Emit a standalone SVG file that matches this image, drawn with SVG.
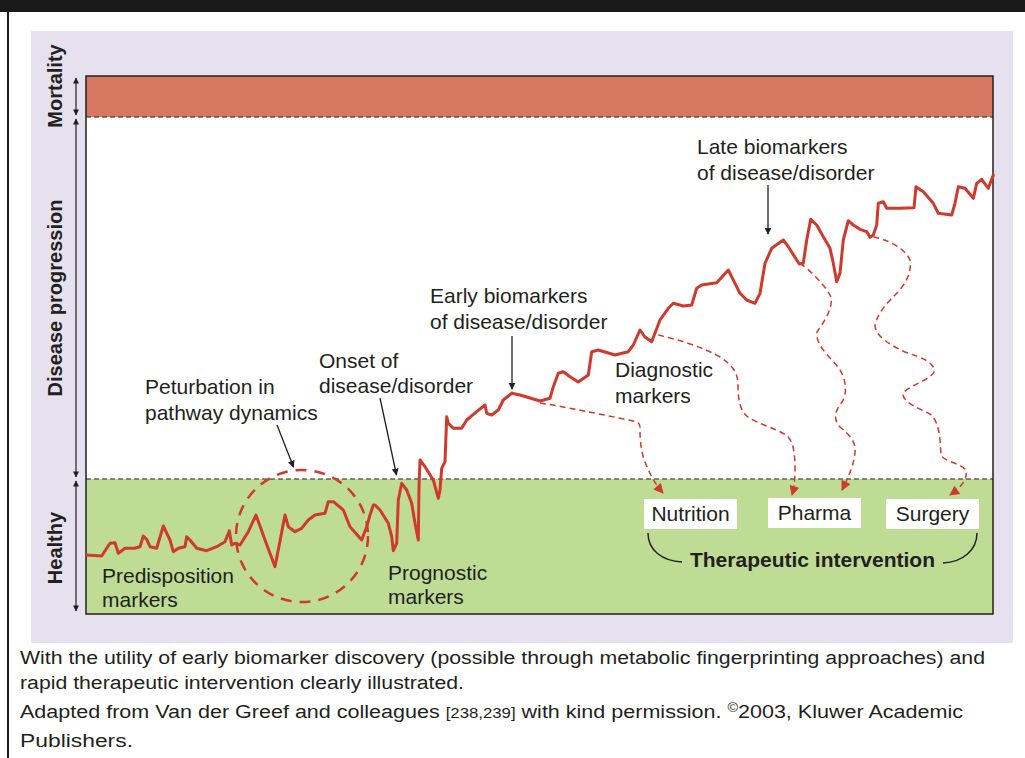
<svg xmlns="http://www.w3.org/2000/svg" width="1025" height="758" viewBox="0 0 1025 758">
<defs>
<style>
.lbl{font-family:"Liberation Sans",Arial,sans-serif;font-size:21px;fill:#231f20}
.ax{font-family:"Liberation Sans",Arial,sans-serif;font-size:20px;font-weight:bold;fill:#231f20}
.cap{font-family:"Liberation Sans",Arial,sans-serif;font-size:18px;fill:#231f20}
.box{fill:#ffffff}
.ann{stroke:#231f20;stroke-width:1.3;fill:none}
.axl{stroke:#231f20;stroke-width:1.2;fill:none}
.rd{stroke:#d0392b;stroke-width:1.5;fill:none;stroke-dasharray:6,4}
.curve{stroke:#d0392b;stroke-width:3;fill:none;stroke-linejoin:round;stroke-linecap:round}
</style>
<marker id="ah" viewBox="0 0 10 10" refX="9" refY="5" markerWidth="7" markerHeight="9" markerUnits="userSpaceOnUse" orient="auto"><path d="M0,0 L10,5 L0,10 z" fill="#231f20"/></marker>
<marker id="ahs" viewBox="0 0 10 10" refX="9" refY="5" markerWidth="7" markerHeight="6" markerUnits="userSpaceOnUse" orient="auto-start-reverse"><path d="M0,0 L10,5 L0,10 z" fill="#231f20"/></marker>
<marker id="ar" viewBox="0 0 10 10" refX="9" refY="5" markerWidth="11" markerHeight="10" markerUnits="userSpaceOnUse" orient="auto"><path d="M0,0 L10,5 L0,10 z" fill="#d0392b"/></marker>
</defs>
<rect x="0" y="0" width="1025" height="758" fill="#ffffff"/>
<rect x="0" y="0" width="1025" height="12" fill="#1a1a1a"/>
<rect x="7" y="12" width="2" height="746" fill="#1a1a1a"/>
<rect x="31" y="31" width="982" height="612" fill="#e6e1ef"/>

<g id="plot">
<rect x="86" y="117" width="907" height="362" fill="#ffffff"/>
<rect x="86" y="76" width="907" height="41" fill="#d77862"/>
<rect x="86" y="479" width="907" height="135" fill="#bfdc95"/>
<rect x="86" y="76" width="907" height="538" fill="none" stroke="#231f20" stroke-width="1.5"/>
<line x1="86" y1="117" x2="993" y2="117" stroke="#231f20" stroke-width="1.2" stroke-dasharray="5,3"/>
<line x1="86" y1="479" x2="993" y2="479" stroke="#231f20" stroke-width="1.2" stroke-dasharray="5,3"/>
</g>

<g id="axis">
<line class="axl" x1="76" y1="78" x2="76" y2="115" marker-start="url(#ahs)" marker-end="url(#ahs)"/>
<line class="axl" x1="76" y1="119" x2="76" y2="477" marker-start="url(#ahs)" marker-end="url(#ahs)"/>
<line class="axl" x1="76" y1="481" x2="76" y2="611" marker-start="url(#ahs)" marker-end="url(#ahs)"/>
<text class="ax" transform="translate(62,86) rotate(-90)" text-anchor="middle">Mortality</text>
<text class="ax" transform="translate(62,298) rotate(-90)" text-anchor="middle">Disease progression</text>
<text class="ax" transform="translate(62,548) rotate(-90)" text-anchor="middle">Healthy</text>
</g>

<g id="curve">
<polyline class="curve" points="86.7,555 101.7,556 110,543.3 115,542.7 118.3,553.3 125,548.3 135,548.3 140,546.7 143.3,536 146.7,539.3 150,546.7 156.7,548.3 163.3,526 170,540 173.3,551.7 178.3,548.3 185,546.7 186.7,536.7 190,540 196.7,548.3 206.7,550.7 216.7,546.7 225,541.7 229.3,530.7 231.7,545 235,543.3 240,545 248.3,531.7 256,515 265,540 275,566.7 285,515 288.3,526.7 295,531.7 301.7,528.3 308.3,520 315,515 325,513.3 328.3,501.7 333.3,501.7 343.3,510 350,526.7 361.7,540 366.7,526.7 370,515 373.3,505 375,505 380,510 388.3,523.3 391.7,536.7 393.3,550.7 396.7,543.3 398.3,500 401.7,483.3 406.7,490 411.7,503.3 415,523.3 418.3,540 419,486.7 420,460 425,466.7 433.3,480 438.3,498.3 440,490 441.7,468.3 445,461.7 446.7,416.7 448.3,423.3 453.3,428.3 461.7,428.3 466.7,420 476.7,411.7 485,405 486.7,413.3 491.7,415 498.3,410 503.3,400 511.7,393.3 520,395 540,401 550,398.3 553.3,386.7 558.3,373.3 563.3,371.7 570,376.7 578.3,382 588.3,375 591.7,351.7 598.3,350 615,355 628.3,351.7 633.3,345 640,330 645,337 651.7,341.7 660,320 668.3,308.3 673.3,303.3 683.3,306 691.7,305 696.7,288.3 701.7,285 716.7,282.7 728.3,270 735,283.3 740,293.3 746.7,300 755,303.3 760,293.3 765,263.3 771.7,248.3 783.3,240 788.3,246.7 796.7,260 799.3,264 803.3,263.3 806.7,240 810.7,219.3 816.7,225 823.3,236.7 830,248.3 833.3,263.3 836.7,281.7 840,273.3 843.3,240 848.3,220.7 853.3,225 860,229.3 866.7,231.7 870,237.3 873.3,235 876.7,225 878.3,203.3 883.3,201.7 886.7,208.3 900,208.3 914,207.7 916,186.7 923.3,191.7 933.3,203.3 938.3,213.3 951.7,215 955,203.3 958.3,186.7 965,188.3 973.3,198.3 976.7,183.3 981.7,179.3 988.3,188.3 993.3,175"/>
<circle cx="302" cy="536" r="66" fill="none" stroke="#d0392b" stroke-width="2.5" stroke-dasharray="11,8"/>
</g>

<g id="connectors">
<line class="ann" x1="768" y1="185" x2="768" y2="234" marker-end="url(#ah)"/>
<line class="ann" x1="512" y1="336" x2="512" y2="389" marker-end="url(#ah)"/>
<line class="ann" x1="380" y1="398" x2="396.5" y2="475" marker-end="url(#ah)"/>
<line class="ann" x1="277" y1="425" x2="293.5" y2="467" marker-end="url(#ah)"/>
<path class="rd" d="M540,403 C560,406 600,414 636.7,421.7 Q641,424 640,430 C640,440 641,452 645,462 C650,475 656,485 663,493" marker-end="url(#ar)"/>
<path class="rd" d="M658.3,335 C680,340 705,348 720,357 C732,365 738,372 738,385 C738,397 739,410 748,417 C758,424 775,428 786,435 C794,441 795,455 795,470 C795,480 794,488 792,495" marker-end="url(#ar)"/>
<path class="rd" d="M800,263.3 C810,270 825,285 831,297 C833,310 823,323 817,332 C815,345 830,357 838,367 C846,378 848,393 842,402 C836,410 832,418 840,427 C850,435 856,442 855,452 C854,465 848,478 842,490" marker-end="url(#ar)"/>
<path class="rd" d="M873.3,236.7 C888,240 905,248 910,260 C912,272 906,283 898,292 C888,302 878,312 875,325 C875,336 890,345 905,352 C922,358 935,362 934,372 C930,380 912,384 903,393 C902,402 918,408 930,414 C940,422 940,440 941,455 C945,462 958,462 966,470 C968,480 960,488 950,495" marker-end="url(#ar)"/>
</g>

<g id="labels">
<text class="lbl" x="697" y="154">Late biomarkers</text>
<text class="lbl" x="697" y="180">of disease/disorder</text>
<text class="lbl" x="430" y="303">Early biomarkers</text>
<text class="lbl" x="430" y="329">of disease/disorder</text>
<text class="lbl" x="319" y="368">Onset of</text>
<text class="lbl" x="319" y="393">disease/disorder</text>
<text class="lbl" x="145" y="394">Peturbation in</text>
<text class="lbl" x="145" y="420">pathway dynamics</text>
<text class="lbl" x="615" y="377">Diagnostic</text>
<text class="lbl" x="615" y="403">markers</text>
<text class="lbl" x="102" y="583">Predisposition</text>
<text class="lbl" x="102" y="607">markers</text>
<text class="lbl" x="388" y="580">Prognostic</text>
<text class="lbl" x="388" y="604">markers</text>
</g>

<g id="node-nutrition">
<rect class="box" x="644" y="499" width="93" height="30"/>
<text class="lbl" x="690.5" y="521" text-anchor="middle">Nutrition</text>
</g>
<g id="node-pharma">
<rect class="box" x="768" y="498" width="93" height="30"/>
<text class="lbl" x="814.5" y="520" text-anchor="middle">Pharma</text>
</g>
<g id="node-surgery">
<rect class="box" x="886" y="499" width="93" height="30"/>
<text class="lbl" x="932.5" y="521" text-anchor="middle">Surgery</text>
</g>
<g id="therapeutic">
<path d="M648,533 C648,550 662,561 682,562" fill="none" stroke="#231f20" stroke-width="1.5"/>
<path d="M977,533 C977,550 963,562 943,563" fill="none" stroke="#231f20" stroke-width="1.5"/>
<text class="lbl" x="812.5" y="567" text-anchor="middle" font-weight="bold">Therapeutic intervention</text>
</g>

<g id="caption">
<text class="cap" x="20" y="664" textLength="965" lengthAdjust="spacingAndGlyphs">With the utility of early biomarker discovery (possible through metabolic fingerprinting approaches) and</text>
<text class="cap" x="20" y="689" textLength="444" lengthAdjust="spacingAndGlyphs">rapid therapeutic intervention clearly illustrated.</text>
<text class="cap" x="20" y="718" textLength="943" lengthAdjust="spacingAndGlyphs">Adapted from Van der Greef and colleagues <tspan font-size="14">[238,239]</tspan> with kind permission. <tspan font-size="12" dy="-6">©</tspan><tspan dy="6">2003, Kluwer Academic</tspan></text>
<text class="cap" x="20" y="747" textLength="113" lengthAdjust="spacingAndGlyphs">Publishers.</text>
</g>
</svg>
